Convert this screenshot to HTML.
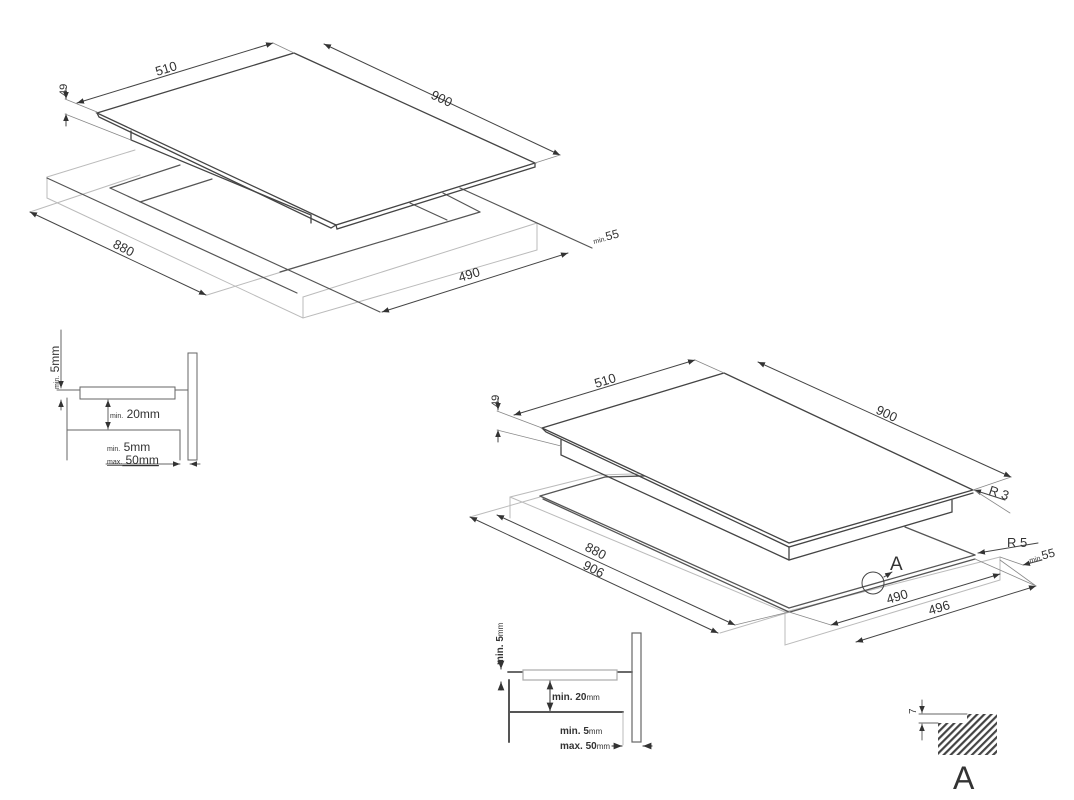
<!DOCTYPE html>
<html><head><meta charset="utf-8"><style>
html,body{margin:0;padding:0;background:#fff;}
svg{display:block;}
text{font-family:"Liberation Sans",Arial,sans-serif;fill:#333;}
</style></head><body>
<svg width="1074" height="800" viewBox="0 0 1074 800" xmlns="http://www.w3.org/2000/svg">
<defs>
<marker id="a" viewBox="0 0 10 10" refX="10" refY="5" markerWidth="7" markerHeight="7" orient="auto-start-reverse"><path d="M0,1 L10,5 L0,9 z" fill="#333"/></marker>
<pattern id="h" width="5" height="5" patternUnits="userSpaceOnUse" patternTransform="rotate(45)"><rect width="2.2" height="5" fill="#444"/></pattern>
</defs>
<g fill="none" stroke-linecap="round">
<g stroke="#bbb" stroke-width="1">
<polyline points="47,177 135,150"/>
<polyline points="47,177 47,198 303,318 537,250 537,223"/>
<line x1="303" y1="297" x2="303" y2="318"/>
<line x1="303" y1="297" x2="537" y2="223"/>
<line x1="30" y1="212" x2="140" y2="175"/>
<line x1="207" y1="295" x2="320" y2="260"/>
</g>
<g stroke="#555" stroke-width="1.2">
<line x1="47" y1="178" x2="297" y2="293"/>
<line x1="110" y1="188" x2="180" y2="165"/>
<line x1="110" y1="188" x2="380" y2="312"/>
<line x1="140" y1="202" x2="212" y2="179"/>
<line x1="280" y1="272" x2="480" y2="212"/>
<line x1="443" y1="193" x2="480" y2="212"/>
<line x1="410" y1="203" x2="447" y2="220"/>
<line x1="460" y1="188" x2="592" y2="248"/>
</g>
<g stroke="#444" stroke-width="1.3">
<polygon points="97,113 294,53 535,163 336,225" fill="#fff"/>
<polyline points="97,113 99,117 331,228 336,225"/>
<polyline points="336,225 337,229 535,167 535,163"/>
<polyline points="131,131 131,140 311,215 311,223"/>
</g>
<g stroke="#444" stroke-width="1">
<line x1="77" y1="103" x2="273" y2="43" marker-start="url(#a)" marker-end="url(#a)"/>
<line x1="324" y1="44" x2="560" y2="155" marker-start="url(#a)" marker-end="url(#a)"/>
<line x1="30" y1="212" x2="206" y2="295" marker-start="url(#a)" marker-end="url(#a)"/>
<line x1="382" y1="312" x2="568" y2="253" marker-start="url(#a)" marker-end="url(#a)"/>
<line x1="66" y1="88" x2="66" y2="99" marker-end="url(#a)"/>
<line x1="66" y1="126" x2="66" y2="114" marker-end="url(#a)"/>
</g>
<g stroke="#888" stroke-width="0.8">
<line x1="65" y1="99" x2="97" y2="112"/>
<line x1="65" y1="114" x2="131" y2="140"/>
<line x1="273" y1="43" x2="294" y2="53"/>
<line x1="535" y1="163" x2="560" y2="155"/>
</g>
<g stroke="#bbb" stroke-width="1">
<line x1="510" y1="497" x2="598" y2="475"/>
<line x1="510" y1="497" x2="510" y2="518"/>
<line x1="510" y1="497" x2="785" y2="612"/>
<polyline points="785,612 785,645 1000,580 1000,557"/>
<line x1="785" y1="612" x2="1000" y2="557"/>
<line x1="598" y1="475" x2="760" y2="470"/>
<line x1="470" y1="517" x2="540" y2="497"/>
<line x1="720" y1="633" x2="790" y2="612"/>
</g>
<g stroke="#555" stroke-width="1.3">
<line x1="540" y1="496" x2="605" y2="477"/>
<line x1="540" y1="496" x2="789" y2="608"/>
<line x1="543" y1="499" x2="789" y2="612"/>
<line x1="789" y1="608" x2="975" y2="555"/>
<line x1="790" y1="612" x2="975" y2="559"/>
<line x1="905" y1="527" x2="975" y2="555"/>
<line x1="605" y1="477" x2="680" y2="475"/>
</g>
<g stroke="#444" stroke-width="1.3">
<polygon points="542,428 724,373 973,490 789,543" fill="#fff"/>
<polyline points="542,428 546,432 789,547 973,493"/>
<polyline points="561,440 561,455 789,560 952,512 952,500"/>
<line x1="789" y1="547" x2="789" y2="560"/>
</g>
<g stroke="#444" stroke-width="1">
<line x1="514" y1="415" x2="695" y2="360" marker-start="url(#a)" marker-end="url(#a)"/>
<line x1="758" y1="362" x2="1011" y2="477" marker-start="url(#a)" marker-end="url(#a)"/>
<line x1="497" y1="515" x2="735" y2="625" marker-start="url(#a)" marker-end="url(#a)"/>
<line x1="470" y1="517" x2="718" y2="633" marker-start="url(#a)" marker-end="url(#a)"/>
<line x1="831" y1="625" x2="1000" y2="574" marker-start="url(#a)" marker-end="url(#a)"/>
<line x1="856" y1="642" x2="1036" y2="586" marker-start="url(#a)" marker-end="url(#a)"/>
<line x1="498" y1="398" x2="498" y2="410" marker-end="url(#a)"/>
<line x1="498" y1="442" x2="498" y2="430" marker-end="url(#a)"/>
<line x1="1005" y1="500" x2="974" y2="490" marker-end="url(#a)"/>
<line x1="1038" y1="543" x2="978" y2="553" marker-end="url(#a)"/>
<line x1="1023" y1="565" x2="1042" y2="560" marker-start="url(#a)"/>
</g>
<g stroke="#888" stroke-width="0.8">
<line x1="497" y1="411" x2="542" y2="428"/>
<line x1="497" y1="430" x2="561" y2="446"/>
<line x1="695" y1="360" x2="724" y2="373"/>
<line x1="973" y1="490" x2="1011" y2="477"/>
<line x1="974" y1="490" x2="1010" y2="513"/>
<line x1="1000" y1="557" x2="1023" y2="565"/>
<line x1="735" y1="625" x2="789" y2="612"/>
<line x1="975" y1="559" x2="1036" y2="586"/>
<line x1="831" y1="625" x2="789" y2="612"/>
<line x1="1000" y1="560" x2="1036" y2="586"/>
</g>
<circle cx="873" cy="583" r="11" stroke="#444" stroke-width="1"/>
<line x1="884" y1="577" x2="892" y2="572" stroke="#444" marker-end="url(#a)"/>
<g stroke="#666" stroke-width="1">
<line x1="61" y1="330" x2="61" y2="388" marker-end="url(#a)"/>
<line x1="61" y1="410" x2="61" y2="400" marker-end="url(#a)"/>
<line x1="57" y1="390" x2="188" y2="390"/>
<rect x="80" y="387" width="95" height="12" fill="#fff"/>
<polyline points="67,398 67,460"/>
<polyline points="67,430 180,430 180,460"/>
<rect x="188" y="353" width="9" height="107"/>
<line x1="108" y1="400" x2="108" y2="429" marker-start="url(#a)" marker-end="url(#a)"/>
<line x1="106" y1="464" x2="180" y2="464" marker-end="url(#a)"/>
<line x1="200" y1="464" x2="190" y2="464" marker-end="url(#a)"/>
</g>
<g stroke="#555" stroke-width="1.2">
<line x1="501" y1="668" x2="501" y2="669" marker-end="url(#a)"/>
<line x1="501" y1="690" x2="501" y2="682" marker-end="url(#a)"/>
<line x1="508" y1="672" x2="632" y2="672" stroke-width="1.8"/>
<rect x="523" y="670" width="94" height="10" fill="#fff" stroke="#aaa"/>
<line x1="509" y1="680" x2="509" y2="742" stroke-width="2"/>
<line x1="509" y1="712" x2="623" y2="712" stroke-width="2"/>
<rect x="632" y="633" width="9" height="109" stroke="#666"/>
<line x1="550" y1="681" x2="550" y2="711" marker-start="url(#a)" marker-end="url(#a)"/>
<line x1="623" y1="712" x2="623" y2="745" stroke="#aaa" stroke-width="0.8"/>
<line x1="612" y1="746" x2="622" y2="746" marker-end="url(#a)"/>
<line x1="652" y1="746" x2="643" y2="746" marker-end="url(#a)"/>
</g>
<polygon points="938,723 967,723 967,714 997,714 997,755 938,755" fill="url(#h)" stroke="none"/>
<g stroke="#666" stroke-width="1">
<line x1="919" y1="714" x2="967" y2="714"/>
<line x1="919" y1="723" x2="938" y2="723"/>
<line x1="922" y1="700" x2="922" y2="713" marker-end="url(#a)"/>
<line x1="922" y1="740" x2="922" y2="724" marker-end="url(#a)"/>
</g>
</g>
<text x="157" y="76" font-size="13" transform="rotate(-17 157 76)">510</text>
<text x="430" y="98" font-size="13" transform="rotate(25 430 98)">900</text>
<text x="67" y="96" font-size="11" transform="rotate(-90 67 96)">49</text>
<text x="112" y="247" font-size="13" transform="rotate(27 112 247)">880</text>
<text x="460" y="282" font-size="13" transform="rotate(-17 460 282)">490</text>
<text x="594" y="244" font-size="12" transform="rotate(-15 594 244)"><tspan font-size="7">min.</tspan>55</text>
<text x="596" y="388" font-size="13" transform="rotate(-17 596 388)">510</text>
<text x="875" y="413" font-size="13" transform="rotate(25 875 413)">900</text>
<text x="499" y="407" font-size="11" transform="rotate(-90 499 407)">49</text>
<text x="988" y="494" font-size="13" transform="rotate(18 988 494)">R 3</text>
<text x="1007" y="547" font-size="13">R 5</text>
<text x="1030" y="563" font-size="12" transform="rotate(-15 1030 563)"><tspan font-size="7">min.</tspan>55</text>
<text x="584" y="550" font-size="13" transform="rotate(27 584 550)">880</text>
<text x="582" y="568" font-size="13" transform="rotate(27 582 568)">906</text>
<text x="888" y="604" font-size="13" transform="rotate(-17 888 604)">490</text>
<text x="930" y="615" font-size="13" transform="rotate(-17 930 615)">496</text>
<text x="890" y="570" font-size="19">A</text>
<text x="59" y="389" font-size="12" transform="rotate(-90 59 389)"><tspan font-size="7">min.</tspan> 5mm</text>
<text x="110" y="418" font-size="12"><tspan font-size="7">min.</tspan> 20mm</text>
<text x="107" y="451" font-size="12"><tspan font-size="7">min.</tspan> 5mm</text>
<text x="107" y="464" font-size="12" text-decoration="underline"><tspan font-size="7">max.</tspan> 50mm</text>
<text x="503" y="665" font-size="10" font-weight="bold" transform="rotate(-90 503 665)">min. 5<tspan font-size="8" font-weight="normal">mm</tspan></text>
<text x="552" y="700" font-size="10" font-weight="bold">min. 20<tspan font-size="8" font-weight="normal">mm</tspan></text>
<text x="560" y="734" font-size="10" font-weight="bold">min. 5<tspan font-size="8" font-weight="normal">mm</tspan></text>
<text x="560" y="749" font-size="10" font-weight="bold">max. 50<tspan font-size="8" font-weight="normal">mm</tspan></text>
<text x="916" y="714" font-size="10" transform="rotate(-90 916 714)">7</text>
<text x="953" y="789" font-size="32">A</text>
</svg>
</body></html>
